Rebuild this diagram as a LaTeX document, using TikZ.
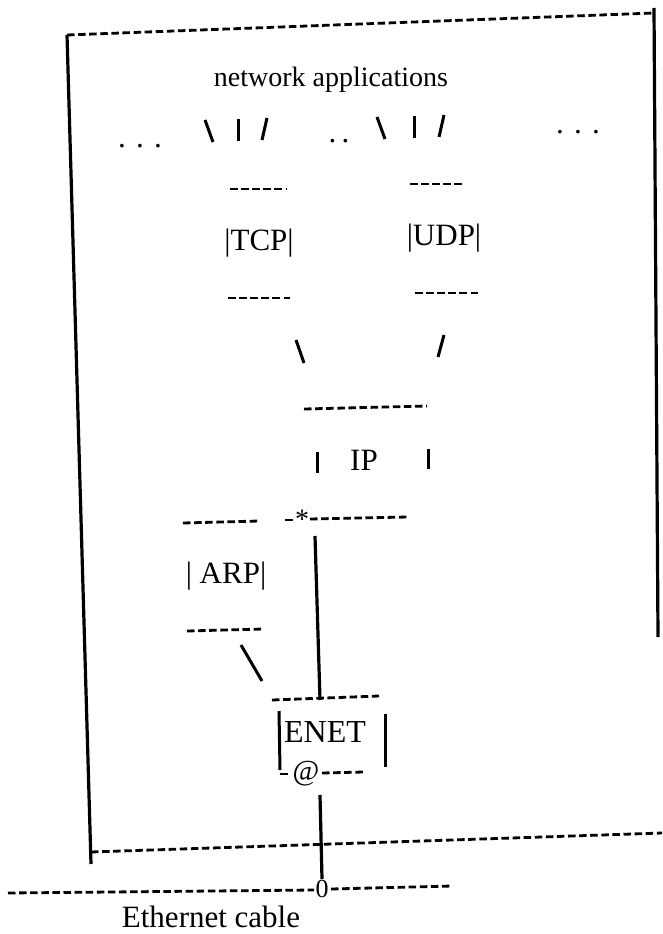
\documentclass[tikz,border=0pt]{standalone}
\usepackage{fontspec}
\setmainfont{Liberation Serif}
\begin{document}
\begin{tikzpicture}[x=1pt,y=-1pt,
  txt/.style={font=\fontsize{31}{34}\selectfont, inner sep=0pt, anchor=base},
  sm/.style={font=\fontsize{28}{30}\selectfont, inner sep=0pt, anchor=base},
  dashline/.style={line width=2.8pt, dash pattern=on 7.5pt off 3.6pt},
  solid line/.style={line width=3.2pt},
  stroke/.style={line width=3pt}]
\useasboundingbox (0,0) rectangle (662,934);
\fill[white] (0,0) rectangle (662,934);

% outer frame
\coordinate (tl) at (67,35);
\coordinate (tr) at (654,13);
\coordinate (trtop) at (654,8);
\coordinate (rb) at (658,637);
\coordinate (bl) at (91,864);
\coordinate (blc) at (91,852);
\coordinate (br) at (662,833);
\draw[dashline] (tl) -- (tr);
\draw[solid line] (trtop) -- (rb);
\draw[solid line] (tl) -- (bl);
\draw[dashline] (blc) -- (br);

% title
\node[txt, font=\fontsize{28}{30}\selectfont] (apps) at (331,86) {network applications};

% application fan-in row
\node[txt] (dl) at (140,147) {.\,\,.\,\,.};
\node[txt] (dm) at (339,142) {.\,.};
\node[txt] (dr) at (578,133) {.\,\,.\,\,.};
\draw[stroke] (205,120) -- (213,142);
\draw[stroke] (238,119) -- (238,141);
\draw[stroke] (267,118) -- (262,140);
\draw[stroke] (377,117) -- (385,139);
\draw[stroke] (414,116) -- (414,138);
\draw[stroke] (444,115) -- (439,137);

% TCP / UDP
\draw[dashline] (230,189) -- (287,189);
\draw[dashline] (410,184) -- (463,184);
\node[txt] (tcp) at (259,250) {|TCP|};
\node[txt] (udp) at (444,245) {|UDP|};
\draw[dashline] (228,298) -- (290,298);
\draw[dashline] (415,293) -- (481,293);

\draw[stroke] (296,340) -- (304,363);
\draw[stroke] (444,335) -- (438,357);

% IP
\draw[dashline] (304,409) -- (427,406);
\draw[stroke] (317,452) -- (317,473);
\draw[stroke] (428,449) -- (428,469);
\node[txt] (ip) at (364,470) {IP};
\draw[dashline] (183,523) -- (259,521);
\draw[dashline] (285,520) -- (294,520);
\node[sm] (star) at (302,528) {*};
\draw[dashline] (310,519) -- (408,517);

% ARP
\node[txt] (arp) at (226,583) {| ARP|};
\draw[dashline] (187,631) -- (263,629);
\draw[stroke] (241,645) -- (262,681);

% IP to ENET
\draw[solid line] (315,536) -- (320,700);

% ENET
\draw[dashline] (272,700) -- (379,696);
\draw[stroke] (279,711) -- (280,770);
\draw[stroke] (385,714) -- (385,767);
\node[txt, font=\fontsize{32}{34}\selectfont] (enet) at (325,742) {ENET};
\draw[dashline] (280,774) -- (290,774);
\node[sm, font=\fontsize{29}{31}\selectfont] (at) at (306,780) {@};
\draw[dashline] (322,773) -- (364,772);

% ENET to cable
\draw[solid line] (320,795) -- (322,879);
\draw[dashline] (8,893) -- (314,890);
\node[font=\fontsize{26}{28}\selectfont, inner sep=0pt, anchor=base] (tap) at (322,897) {0};
\draw[dashline] (331,889) -- (452,886);

\node[txt] (cable) at (211,927) {Ethernet cable};
\end{tikzpicture}
\end{document}
